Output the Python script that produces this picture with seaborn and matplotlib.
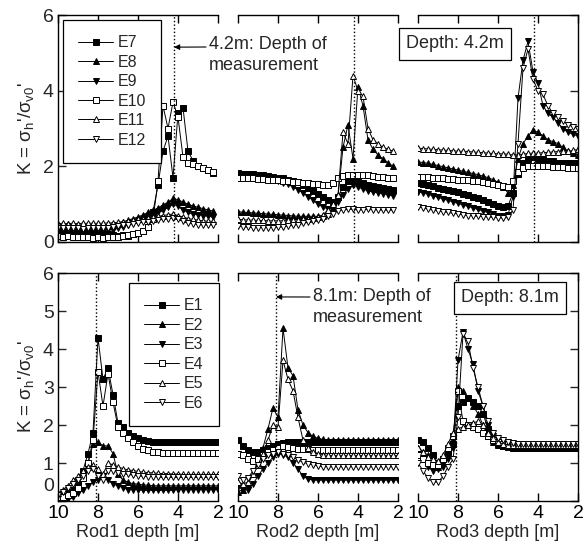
import numpy as np
import matplotlib
matplotlib.use("Agg")
import matplotlib.pyplot as plt
import matplotlib.transforms as mtransforms
import seaborn as sns

sns.set_style("ticks")
plt.rcParams['font.family'] = ['Liberation Sans', 'DejaVu Sans']
plt.rcParams['mathtext.fontset'] = 'custom'
plt.rcParams['mathtext.rm'] = 'Liberation Sans'
plt.rcParams['mathtext.it'] = 'Liberation Sans:italic'
plt.rcParams['mathtext.sf'] = 'Liberation Sans'
nan = float('nan')

# ---------------- data ----------------
DEPTH = [10.0, 9.75, 9.5, 9.25, 9.0, 8.75, 8.5, 8.25, 8.0, 7.75, 7.5, 7.25, 7.0,
         6.75, 6.5, 6.25, 6.0, 5.75, 5.5, 5.25, 5.0, 4.75, 4.5, 4.25, 4.0, 3.75,
         3.5, 3.25, 3.0, 2.75, 2.5, 2.25, 2.0]
XTICKS = [10, 8, 6, 4, 2]
TOP_YTICKS = [0, 2, 4, 6]
BOT_YTICKS = [0, 1, 2, 3, 4, 5, 6]
ROD_LABELS = ["Rod1 depth [m]", "Rod2 depth [m]", "Rod3 depth [m]"]
MEAS_TOP = 4.2
MEAS_BOT = 8.1

# Top row: measurement at 4.2 m (E7-E12)
r1_E7 = [0.30, 0.28, 0.30, 0.27, 0.25, 0.27, 0.24, 0.22, 0.24, 0.20, 0.22, 0.18, 0.16, 0.18, 0.15, 0.20,
         0.25, 0.30, 0.40, 0.80, 1.50, 2.40, 2.80, 1.70, 3.40, 3.55, 2.40, 2.15, 2.00, 1.95, 1.90, 1.82, nan]
r1_E8 = [0.47, 0.45, 0.47, 0.45, 0.46, 0.44, 0.46, 0.44, 0.45, 0.45, 0.47, 0.48, 0.50, 0.53, 0.57, 0.62,
         0.66, 0.72, 0.78, 0.84, 0.90, 0.98, 1.05, 1.15, 1.12, 1.05, 1.00, 0.95, 0.92, 0.88, 0.85, 0.82, nan]
r1_E9 = [0.32, 0.30, 0.32, 0.30, 0.31, 0.29, 0.30, 0.28, 0.30, 0.30, 0.32, 0.33, 0.36, 0.40, 0.45, 0.50,
         0.55, 0.60, 0.66, 0.72, 0.78, 0.85, 0.92, 1.00, 0.95, 0.85, 0.78, 0.74, 0.72, 0.70, 0.68, 0.66, nan]
r1_E10 = [0.15, 0.13, 0.15, 0.12, 0.14, 0.12, 0.13, 0.11, 0.12, 0.10, 0.12, 0.13, 0.12, 0.15, 0.18, 0.20,
          0.25, 0.30, 0.40, 0.60, 1.60, 3.60, 3.00, 3.70, 3.30, 2.25, 2.10, 2.05, 2.00, 1.95, 1.90, 1.85, nan]
r1_E11 = [0.48, 0.50, 0.48, 0.50, 0.48, 0.50, 0.49, 0.50, 0.49, 0.50, 0.50, 0.51, 0.52, 0.54, 0.56, 0.58,
          0.60, 0.62, 0.64, 0.66, 0.68, 0.70, 0.72, 0.74, 0.70, 0.66, 0.62, 0.60, 0.58, 0.56, 0.55, 0.55, nan]
r1_E12 = [0.38, 0.36, 0.38, 0.36, 0.37, 0.35, 0.37, 0.36, 0.37, 0.37, 0.38, 0.40, 0.42, 0.44, 0.46, 0.48,
          0.50, 0.52, 0.54, 0.56, 0.58, 0.60, 0.62, 0.64, 0.60, 0.55, 0.50, 0.48, 0.46, 0.45, 0.45, 0.45, nan]

r2_E7 = [1.82, 1.81, 1.80, 1.79, 1.78, 1.76, 1.74, 1.72, 1.70, 1.68, 1.65, 1.62, 1.58, 1.50, 1.42, 1.35,
         1.27, 1.18, 1.10, 1.05, 1.20, 1.45, 1.60, 1.65, 1.62, 1.55, 1.50, 1.48, 1.45, 1.42, 1.40, 1.38, nan]
r2_E8 = [0.80, 0.79, 0.78, 0.77, 0.76, 0.75, 0.74, 0.73, 0.72, 0.71, 0.70, 0.69, 0.68, 0.68, 0.68, 0.68,
         0.68, 0.70, 0.75, 0.90, 1.20, 2.50, 3.10, 2.20, 4.10, 3.60, 2.70, 2.45, 2.30, 2.20, 2.10, 2.00, nan]
r2_E9 = [1.80, 1.79, 1.78, 1.76, 1.74, 1.72, 1.70, 1.66, 1.62, 1.57, 1.52, 1.46, 1.38, 1.30, 1.20, 1.10,
         1.00, 0.92, 0.88, 0.90, 1.05, 1.25, 1.40, 1.50, 1.45, 1.40, 1.35, 1.32, 1.30, 1.28, 1.25, 1.22, nan]
r2_E10 = [1.70, 1.69, 1.68, 1.68, 1.67, 1.66, 1.65, 1.64, 1.63, 1.62, 1.60, 1.59, 1.58, 1.57, 1.55, 1.53,
          1.52, 1.51, 1.50, 1.55, 1.68, 1.75, 1.78, 1.78, 1.76, 1.78, 1.76, 1.74, 1.72, 1.71, 1.70, 1.70, nan]
r2_E11 = [0.60, 0.59, 0.58, 0.58, 0.57, 0.57, 0.56, 0.56, 0.56, 0.56, 0.57, 0.58, 0.59, 0.60, 0.62, 0.64,
          0.66, 0.72, 0.85, 1.00, 1.25, 2.90, 2.60, 4.40, 4.00, 3.85, 3.00, 2.70, 2.60, 2.50, 2.45, 2.40, nan]
r2_E12 = [0.42, 0.40, 0.39, 0.38, 0.38, 0.38, 0.38, 0.38, 0.39, 0.40, 0.42, 0.44, 0.46, 0.49, 0.52, 0.55,
          0.58, 0.62, 0.68, 0.75, 0.82, 0.85, 0.86, 0.86, 0.85, 0.85, 0.86, 0.85, 0.85, 0.84, 0.84, 0.84, nan]

r3_E7 = [1.55, 1.53, 1.50, 1.47, 1.44, 1.41, 1.38, 1.35, 1.32, 1.28, 1.24, 1.20, 1.15, 1.10, 1.05, 1.00,
         0.96, 0.93, 0.95, 1.30, 1.80, 2.10, 2.20, 2.25, 2.20, 2.20, 2.15, 2.15, 2.10, 2.10, 2.10, 2.10, 2.10]
r3_E8 = [2.12, 2.10, 2.08, 2.05, 2.02, 1.99, 1.96, 1.93, 1.90, 1.87, 1.84, 1.81, 1.78, 1.74, 1.70, 1.65,
         1.58, 1.45, 1.30, 1.50, 2.20, 2.60, 2.80, 2.95, 2.90, 2.80, 2.70, 2.65, 2.60, 2.50, 2.40, 2.35, 2.30]
r3_E9 = [1.33, 1.30, 1.26, 1.22, 1.18, 1.14, 1.10, 1.06, 1.02, 0.98, 0.94, 0.90, 0.86, 0.82, 0.78, 0.74,
         0.70, 0.68, 0.72, 1.20, 3.80, 4.80, 5.30, 4.50, 4.20, 3.60, 3.40, 3.30, 3.15, 3.00, 2.90, 2.85, 2.80]
r3_E10 = [1.73, 1.72, 1.71, 1.70, 1.69, 1.68, 1.67, 1.66, 1.65, 1.64, 1.63, 1.62, 1.60, 1.58, 1.55, 1.52,
          1.50, 1.47, 1.46, 1.60, 1.85, 1.95, 2.00, 2.00, 2.00, 2.00, 2.00, 1.98, 1.98, 1.97, 1.96, 1.95, 1.95]
r3_E11 = [2.48, 2.47, 2.46, 2.45, 2.44, 2.43, 2.42, 2.41, 2.40, 2.40, 2.39, 2.38, 2.37, 2.36, 2.35, 2.34,
          2.33, 2.33, 2.32, 2.30, 2.30, 2.32, 2.34, 2.35, 2.35, 2.36, 2.37, 2.38, 2.39, 2.40, 2.40, 2.42, 2.45]
r3_E12 = [0.93, 0.90, 0.87, 0.84, 0.82, 0.80, 0.78, 0.76, 0.74, 0.72, 0.70, 0.69, 0.68, 0.67, 0.66, 0.65,
          0.64, 0.63, 0.65, 0.85, 2.60, 4.60, 5.10, 4.30, 4.00, 3.90, 3.60, 3.40, 3.30, 3.20, 3.10, 3.05, 3.00]

# Bottom row: measurement at 8.1 m (E1-E6)
b1_E1 = [0.15, 0.15, 0.20, 0.30, 0.50, 0.80, 1.25, 1.80, 4.30, 3.20, 3.50, 2.80, 2.05, 1.95, 1.80, 1.72,
         1.65, 1.60, 1.58, 1.56, 1.55, 1.56, 1.55, 1.56, 1.55, 1.56, 1.55, 1.56, 1.55, 1.56, 1.55, 1.56, 1.55]
b1_E2 = [0.10, 0.10, 0.15, 0.25, 0.40, 0.70, 1.00, 1.50, 1.55, 1.45, 1.45, 1.25, 0.70, 0.55, 0.50, 0.45,
         0.45, 0.42, 0.42, 0.40, 0.40, 0.40, 0.40, 0.40, 0.40, 0.40, 0.40, 0.40, 0.40, 0.40, 0.40, 0.40, 0.40]
b1_E3 = [0.00, 0.02, 0.05, 0.10, 0.20, 0.30, 0.40, 0.50, 0.55, 0.65, 0.55, 0.45, 0.40, 0.35, 0.30, 0.30,
         0.30, 0.28, 0.28, 0.28, 0.28, 0.28, 0.28, 0.28, 0.30, 0.30, 0.30, 0.30, 0.30, 0.30, 0.30, 0.30, 0.30]
b1_E4 = [0.10, 0.10, 0.15, 0.20, 0.35, 0.60, 1.00, 1.60, 3.40, 2.50, 3.35, 2.60, 1.95, 1.80, 1.65, 1.55,
         1.45, 1.38, 1.33, 1.30, 1.28, 1.27, 1.27, 1.27, 1.27, 1.27, 1.27, 1.27, 1.27, 1.27, 1.27, 1.27, 1.27]
b1_E5 = [0.20, 0.30, 0.40, 0.55, 0.65, 0.80, 0.90, 0.95, 0.85, 0.70, 1.00, 0.95, 0.90, 0.85, 0.82, 0.80,
         0.78, 0.76, 0.75, 0.74, 0.73, 0.72, 0.72, 0.71, 0.71, 0.70, 0.70, 0.70, 0.70, 0.70, 0.70, 0.70, 0.70]
b1_E6 = [0.15, 0.25, 0.35, 0.45, 0.55, 0.65, 0.80, 0.85, 0.65, 0.55, 0.80, 0.80, 0.75, 0.72, 0.70, 0.68,
         0.66, 0.65, 0.64, 0.64, 0.63, 0.63, 0.63, 0.62, 0.62, 0.62, 0.62, 0.62, 0.62, 0.62, 0.62, 0.62, 0.62]

b2_E1 = [1.60, 1.45, 1.35, 1.30, 1.30, 1.35, 1.40, 1.45, 1.50, 1.52, 1.55, 1.55, 1.55, 1.55, 1.55, 1.55,
         1.55, 1.55, 1.55, 1.55, 1.55, 1.55, 1.55, 1.55, 1.55, 1.55, 1.55, 1.55, 1.55, 1.55, 1.55, 1.55, 1.55]
b2_E2 = [0.25, 0.30, 0.45, 0.70, 1.00, 1.40, 1.90, 2.45, 2.20, 4.55, 3.50, 3.30, 2.40, 2.00, 1.80, 1.70,
         1.65, 1.62, 1.60, 1.60, 1.60, 1.60, 1.60, 1.60, 1.60, 1.60, 1.60, 1.60, 1.60, 1.60, 1.60, 1.60, 1.60]
b2_E3 = [0.38, 0.30, 0.30, 0.45, 0.65, 0.85, 1.00, 1.15, 1.25, 1.22, 1.15, 1.00, 0.85, 0.65, 0.58, 0.55,
         0.55, 0.55, 0.55, 0.55, 0.55, 0.55, 0.55, 0.55, 0.55, 0.55, 0.55, 0.55, 0.55, 0.55, 0.55, 0.55, 0.55]
b2_E4 = [1.25, 1.20, 1.10, 1.05, 1.10, 1.20, 1.30, 1.35, 1.40, 1.45, 1.42, 1.40, 1.38, 1.37, 1.36, 1.35,
         1.35, 1.35, 1.35, 1.35, 1.35, 1.35, 1.35, 1.35, 1.35, 1.35, 1.35, 1.35, 1.35, 1.35, 1.35, 1.35, 1.35]
b2_E5 = [0.50, 0.45, 0.50, 0.70, 0.95, 1.25, 1.60, 2.00, 1.95, 3.70, 3.20, 2.90, 2.20, 1.60, 1.40, 1.30,
         1.25, 1.22, 1.20, 1.20, 1.20, 1.20, 1.20, 1.20, 1.20, 1.20, 1.20, 1.20, 1.20, 1.20, 1.20, 1.20, 1.20]
b2_E6 = [0.65, 0.55, 0.60, 0.80, 0.95, 1.10, 1.20, 1.25, 1.30, 1.25, 1.20, 1.15, 1.08, 1.02, 0.98, 0.95,
         0.92, 0.90, 0.90, 0.90, 0.90, 0.90, 0.90, 0.90, 0.90, 0.90, 0.90, 0.90, 0.90, 0.90, 0.90, 0.90, 0.90]

b3_E1 = [1.60, 1.55, 1.40, 1.20, 1.00, 1.10, 1.30, 1.50, 2.50, 2.60, 2.70, 2.60, 2.50, 2.30, 1.90, 1.60,
         1.50, 1.45, 1.42, 1.40, 1.40, 1.40, 1.40, 1.40, 1.40, 1.40, 1.40, 1.40, 1.40, 1.40, 1.40, 1.40, 1.40]
b3_E2 = [1.40, 1.30, 1.20, 1.00, 0.90, 1.00, 1.30, 1.60, 3.00, 2.90, 2.70, 2.50, 2.30, 2.00, 1.70, 1.55,
         1.48, 1.45, 1.45, 1.45, 1.45, 1.45, 1.45, 1.45, 1.45, 1.45, 1.45, 1.45, 1.45, 1.45, 1.45, 1.45, 1.45]
b3_E3 = [1.20, 1.10, 0.90, 0.80, 0.85, 0.90, 1.10, 1.40, 3.70, 4.45, 4.00, 3.60, 2.90, 2.50, 2.00, 1.70,
         1.55, 1.50, 1.45, 1.42, 1.40, 1.40, 1.40, 1.40, 1.40, 1.40, 1.40, 1.40, 1.40, 1.40, 1.40, 1.40, 1.40]
b3_E4 = [1.20, 1.10, 1.00, 0.95, 0.95, 1.10, 1.40, 1.70, 2.90, 2.10, 2.00, 1.95, 1.90, 1.80, 1.70, 1.60,
         1.55, 1.50, 1.50, 1.50, 1.50, 1.50, 1.50, 1.50, 1.50, 1.50, 1.50, 1.50, 1.50, 1.50, 1.50, 1.50, 1.50]
b3_E5 = [1.40, 1.30, 1.15, 1.10, 1.05, 1.20, 1.50, 1.80, 1.90, 1.95, 2.00, 2.05, 2.10, 2.00, 1.80, 1.65,
         1.55, 1.50, 1.48, 1.48, 1.48, 1.48, 1.48, 1.48, 1.48, 1.48, 1.48, 1.48, 1.48, 1.48, 1.48, 1.48, 1.48]
b3_E6 = [1.00, 0.80, 0.60, 0.50, 0.50, 0.65, 0.90, 1.10, 2.20, 4.40, 4.20, 3.50, 3.00, 2.50, 2.10, 1.80,
         1.65, 1.60, 1.55, 1.52, 1.50, 1.50, 1.50, 1.50, 1.50, 1.50, 1.50, 1.50, 1.50, 1.50, 1.50, 1.50, 1.50]

# ---------------- styles ----------------
MARK = {"E1": ("s", True), "E2": ("^", True), "E3": ("v", True),
        "E4": ("s", False), "E5": ("^", False), "E6": ("v", False),
        "E7": ("s", True), "E8": ("^", True), "E9": ("v", True),
        "E10": ("s", False), "E11": ("^", False), "E12": ("v", False)}

panels = [
    [{"E7": r1_E7, "E8": r1_E8, "E9": r1_E9, "E10": r1_E10, "E11": r1_E11, "E12": r1_E12},
     {"E7": r2_E7, "E8": r2_E8, "E9": r2_E9, "E10": r2_E10, "E11": r2_E11, "E12": r2_E12},
     {"E7": r3_E7, "E8": r3_E8, "E9": r3_E9, "E10": r3_E10, "E11": r3_E11, "E12": r3_E12}],
    [{"E1": b1_E1, "E2": b1_E2, "E3": b1_E3, "E4": b1_E4, "E5": b1_E5, "E6": b1_E6},
     {"E1": b2_E1, "E2": b2_E2, "E3": b2_E3, "E4": b2_E4, "E5": b2_E5, "E6": b2_E6},
     {"E1": b3_E1, "E2": b3_E2, "E3": b3_E3, "E4": b3_E4, "E5": b3_E5, "E6": b3_E6}],
]

W, H = 584, 546
fig = plt.figure(figsize=(W / 100, H / 100), dpi=100)

def fx(px):
    return px / W

def fy(py):
    return 1 - py / H

col_left = [58, 238, 418]
col_w = 160
row_top = [15, 273]
row_h = [227, 228]

TICK_FS = 14
axes = [[None] * 3 for _ in range(2)]
for r in range(2):
    for c in range(3):
        ax = fig.add_axes([fx(col_left[c]), fy(row_top[r] + row_h[r]), col_w / W, row_h[r] / H])
        axes[r][c] = ax
        meas = MEAS_TOP if r == 0 else MEAS_BOT
        for name, vals in panels[r][c].items():
            m, filled = MARK[name]
            sns.lineplot(x=DEPTH, y=vals, ax=ax, color="black", linewidth=0.7,
                         marker=m, markersize=4.8,
                         markerfacecolor="black" if filled else "white",
                         markeredgecolor="black", markeredgewidth=0.7,
                         label=name, errorbar=None, sort=False)
        ax.axvline(meas, color="black", linestyle=(0, (1, 1.6)), linewidth=1.0, zorder=5)
        leg = ax.get_legend()
        if leg is not None:
            leg.remove()
        ax.set_xlim(10, 2)
        ax.set_ylim(0, 6)
        ax.set_xticks(XTICKS)
        ax.set_yticks(TOP_YTICKS if r == 0 else BOT_YTICKS)
        ax.set_xlabel("")
        ax.set_ylabel("")
        for s in ax.spines.values():
            s.set_linewidth(1.0)
            s.set_color("black")
        ax.spines["left"].set_visible(c == 0)
        ax.spines["right"].set_visible(c == 2)
        ax.tick_params(axis="x", direction="in", top=True, bottom=True, length=6,
                       width=1.0, labelbottom=(r == 1), labelsize=TICK_FS, pad=3, colors="black")
        ax.tick_params(axis="y", direction="in", left=(c == 0), right=(c == 2), length=6,
                       width=1.0, labelleft=(c == 0), labelright=False, labelsize=TICK_FS, pad=3)
        if r == 1:
            ax.set_xlabel(ROD_LABELS[c], fontsize=13, labelpad=1)
        if c == 0:
            ax.set_ylabel(r"K = $\mathregular{\sigma_h}$'/$\mathregular{\sigma_{v0}}$'",
                          fontsize=13.5, labelpad=5)

# raise the "0" of the lower-left panel so it clears the "10"
ax = axes[1][0]
fig.canvas.draw()
zero_lbl = ax.yaxis.get_major_ticks()[0].label1
zero_lbl.set_transform(zero_lbl.get_transform() +
                       mtransforms.ScaledTranslation(0, 12 / 72, fig.dpi_scale_trans))

# legends
for r, anchor, loc in [(0, (0.03, 0.978), "upper left"), (1, (1.005, 0.956), "upper right")]:
    ax = axes[r][0]
    handles, labels = ax.get_legend_handles_labels()
    lg = ax.legend(handles, labels, loc=loc, bbox_to_anchor=anchor, borderaxespad=0,
                   fontsize=11.5, handlelength=2.2, handletextpad=0.3, labelspacing=0.28,
                   borderpad=0.95, frameon=True, fancybox=False, framealpha=1,
                   edgecolor="black", numpoints=1)
    lg.get_frame().set_linewidth(0.9)

# annotations
ANN_FS = 13
ax = axes[0][0]
ax.annotate("", xy=(MEAS_TOP, 5.15), xytext=(fx(206), fy(47)), textcoords="figure fraction",
            arrowprops=dict(arrowstyle="-|>", color="black", lw=0.8, mutation_scale=8,
                            shrinkA=0, shrinkB=0), annotation_clip=False)
fig.text(fx(209), fy(36), "4.2m: Depth of\nmeasurement", ha="left", va="top",
         fontsize=ANN_FS, linespacing=1.3)

ax = axes[1][1]
ax.annotate("", xy=(MEAS_BOT, 5.37), xytext=(fx(310), fy(297)), textcoords="figure fraction",
            arrowprops=dict(arrowstyle="-|>", color="black", lw=0.8, mutation_scale=8,
                            shrinkA=0, shrinkB=0), annotation_clip=False)
fig.text(fx(313), fy(288), "8.1m: Depth of\nmeasurement", ha="left", va="top",
         fontsize=ANN_FS, linespacing=1.3)

box = dict(boxstyle="square,pad=0.4", fc="white", ec="black", lw=0.9)
fig.text(fx(455), fy(44), "Depth: 4.2m", ha="center", va="center", fontsize=ANN_FS, bbox=box)
fig.text(fx(510), fy(298), "Depth: 8.1m", ha="center", va="center", fontsize=ANN_FS, bbox=box)

fig.savefig("out.png", dpi=100)
